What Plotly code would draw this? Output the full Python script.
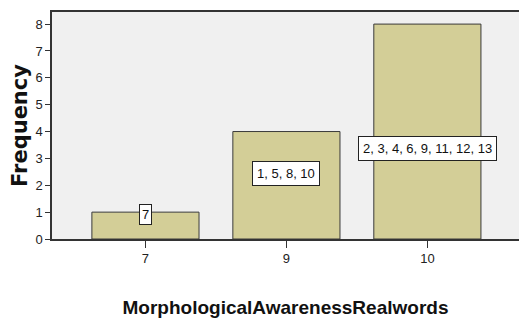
import plotly.graph_objects as go

categories = ["7", "9", "10"]
frequencies = [1, 4, 8]
case_labels = ["7", "1, 5, 8, 10", "2, 3, 4, 6, 9, 11, 12, 13"]
label_y = [0.92, 2.42, 3.38]
y_ticks = [0, 1, 2, 3, 4, 5, 6, 7, 8]

SANS = "Liberation Sans, Arial, sans-serif"

fig = go.Figure()
fig.add_trace(go.Bar(
    x=categories, y=frequencies, width=0.76,
    marker=dict(color="#D3CE97", line=dict(color="#3a3a3a", width=1)),
    hoverinfo="skip",
))

for i, (lab, yy) in enumerate(zip(case_labels, label_y)):
    fig.add_annotation(
        x=i, y=yy, xref="x", yref="y", text=lab, showarrow=False,
        font=dict(family=SANS, size=13, color="#111"),
        bgcolor="white", bordercolor="#222", borderwidth=1,
        borderpad=2 if i == 0 else 4,
    )

fig.update_layout(
    width=519, height=320,
    margin=dict(l=52, r=0, t=12, b=81),
    paper_bgcolor="white", plot_bgcolor="#F0F0F0",
    showlegend=False,
    font=dict(family=SANS, size=13, color="#222"),
    xaxis=dict(
        type="category", range=[-0.663, 2.65],
        showline=True, linecolor="#333", linewidth=1.5, mirror=True,
        ticks="outside", ticklen=7, tickcolor="#333",
        tickfont=dict(family=SANS, size=13, color="#222"),
        showgrid=False,
        title=dict(text="MorphologicalAwarenessRealwords",
                   font=dict(family=SANS, size=19, color="#111", weight="bold"),
                   standoff=35),
    ),
    yaxis=dict(
        range=[0, 8.45], tickvals=y_ticks,
        showline=True, linecolor="#333", linewidth=1.5,
        ticks="outside", ticklen=5, tickcolor="#333",
        tickfont=dict(family=SANS, size=13, color="#222"),
        showgrid=False, zeroline=False,
        title=dict(text="Frequency",
                   font=dict(family="DejaVu Sans, sans-serif", size=21, color="#111", weight="bold"),
                   standoff=2),
    ),
)

fig.write_html("out.html", config={"displayModeBar": False},
               post_script="document.body.style.margin='0';")
